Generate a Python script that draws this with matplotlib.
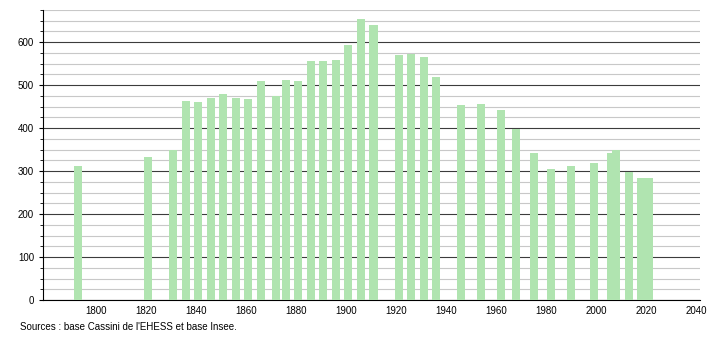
import matplotlib
matplotlib.use('Agg')
import matplotlib.pyplot as plt
from matplotlib.ticker import MultipleLocator

years = [1793, 1821, 1831, 1836, 1841, 1846, 1851, 1856, 1861, 1866,
         1872, 1876, 1881, 1886, 1891, 1896, 1901, 1906, 1911, 1921,
         1926, 1931, 1936, 1946, 1954, 1962, 1968, 1975, 1982, 1990,
         1999, 2006, 2008, 2013, 2018, 2021]
population = [311, 332, 348, 463, 462, 470, 479, 470, 467, 509,
              474, 512, 509, 556, 556, 558, 593, 654, 640, 570,
              572, 565, 519, 453, 456, 442, 397, 343, 304, 313,
              318, 341, 348, 297, 283, 283]

source = "Sources : base Cassini de l'EHESS et base Insee."

plt.rcParams['font.family'] = ['Liberation Sans', 'DejaVu Sans']

fig = plt.figure(figsize=(7.1, 3.4), dpi=100)
ax = fig.add_axes([43/710, 40/340, 657/710, 290/340])

ax.bar(years, population, width=3.2, color='#b0e4b0', zorder=3)

ax.set_xlim(1779, 2041.4)
ax.set_ylim(0, 675)
ax.yaxis.set_major_locator(MultipleLocator(100))
ax.yaxis.set_minor_locator(MultipleLocator(25))
ax.set_xticks(range(1800, 2041, 20))

ax.grid(axis='y', which='minor', color='#c8c8c8', linewidth=0.8, zorder=1)
ax.grid(axis='y', which='major', color='#3c3c3c', linewidth=0.8, zorder=2)

for s in ['top', 'right']:
    ax.spines[s].set_visible(False)

ax.tick_params(axis='x', length=0, labelsize=7, pad=4)
ax.tick_params(axis='y', which='major', length=3, labelsize=7)
ax.tick_params(axis='y', which='minor', length=2)

fig.text(20/710, 1 - 327/340, source, fontsize=7, va='center', ha='left')

fig.savefig('out.png', dpi=100)
